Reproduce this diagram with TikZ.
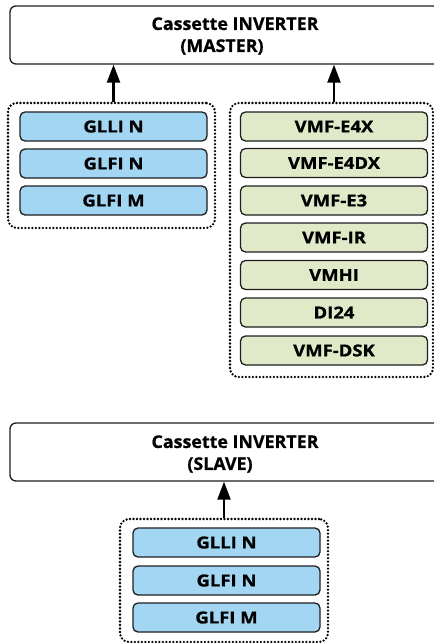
\documentclass[tikz,border=0pt]{standalone}
\usepackage{fontspec}
\setmainfont{Open Sans}
\newfontfamily\titlefont{Open Sans}[FakeStretch=1.02, BoldFeatures={FakeBold=0.8}]
\newfontfamily\labelfont{Open Sans}[FakeStretch=1.12, BoldFeatures={FakeBold=0.8}]
\usetikzlibrary{arrows.meta}
\definecolor{bluefill}{RGB}{163,214,243}
\definecolor{greenfill}{RGB}{224,234,200}
\definecolor{edge}{RGB}{30,30,30}
\tikzset{
  x=1pt, y=-1pt,
  mainbox/.style={draw=edge, line width=1.3pt, rounded corners=6pt, fill=white, minimum width=450pt, minimum height=58pt, inner sep=0pt},
  maintext/.style={font=\titlefont\fontsize{17.5}{22}\selectfont\bfseries, align=center, inner sep=0pt},
  item/.style={draw=edge, line width=1.3pt, rounded corners=5pt, minimum width=187pt, minimum height=29pt, inner sep=0pt, font=\labelfont\fontsize{16.5}{17}\selectfont\bfseries},
  bluebox/.style={item, fill=bluefill},
  greenbox/.style={item, fill=greenfill},
  grp/.style={draw=black, line width=2.6pt, line cap=round, dash pattern=on 0pt off 3.5pt, rounded corners=9pt, inner sep=0pt},
  arr/.style={line width=2.2pt, -{Triangle[length=18pt,width=13pt]}}
}
\begin{document}
\begin{tikzpicture}
\useasboundingbox (0,0) rectangle (434,643);
% master
\node[mainbox] (master) at (235,35) {};
\node[maintext] (mastertxt) at (235,36) {Cassette INVERTER\\(MASTER)\hspace*{26pt}};
% left group
\node[grp, minimum width=207pt, minimum height=125pt] (grpL) at (111.5,165.5) {};
\node[bluebox] (l1) at (113.5,126.5) {GLLI N};
\node[bluebox] (l2) at (113.5,163.5) {GLFI N};
\node[bluebox] (l3) at (113.5,200.5) {GLFI M};
% right group
\node[grp, minimum width=203pt, minimum height=274pt] (grpR) at (331.5,240) {};
\node[greenbox] (r1) at (334,126.5) {VMF-E4X};
\node[greenbox] (r2) at (334,163) {VMF-E4DX};
\node[greenbox] (r3) at (334,200.5) {VMF-E3};
\node[greenbox] (r4) at (334,237.5) {VMF-IR};
\node[greenbox] (r5) at (334,275) {VMHI};
\node[greenbox] (r6) at (334,312.5) {DI24};
\node[greenbox] (r7) at (334,350.5) {VMF-DSK};
% arrows to master
\draw[arr] (grpL.north -| l1.north) -- (master.south -| l1.north);
\draw[arr] (grpR.north -| r1.north) -- (master.south -| r1.north);
% slave
\node[mainbox] (slave) at (235,452) {};
\node[maintext] (slavetxt) at (235,454) {Cassette INVERTER\\(SLAVE)\hspace*{30pt}};
\node[grp, minimum width=208pt, minimum height=123pt] (grpS) at (224,580.5) {};
\node[bluebox] (s1) at (226.5,542.5) {GLLI N};
\node[bluebox] (s2) at (226.5,580.5) {GLFI N};
\node[bluebox] (s3) at (226.5,617.5) {GLFI M};
\draw[arr] (grpS.north -| grpS.north) -- (slave.south -| grpS.north);
\end{tikzpicture}
\end{document}
